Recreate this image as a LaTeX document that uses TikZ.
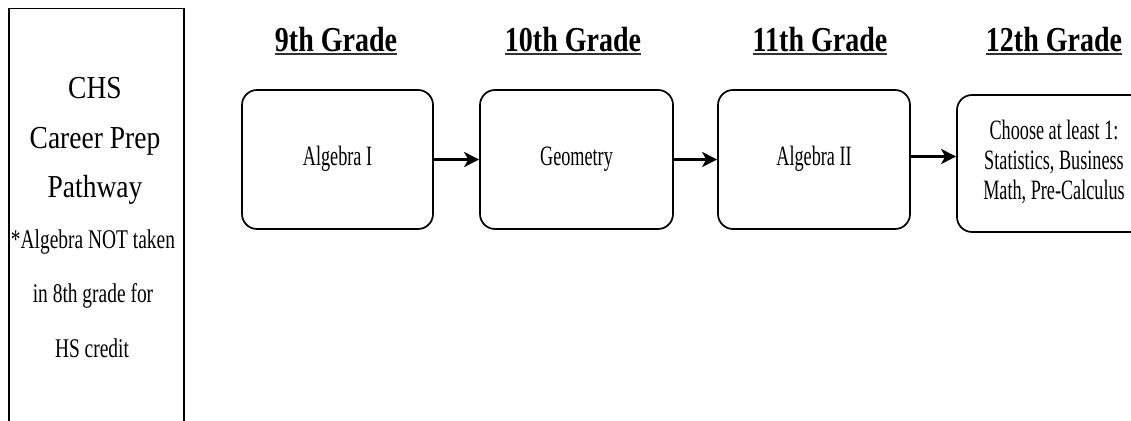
\documentclass[tikz,border=0pt]{standalone}
\usepackage{fontspec}
\setmainfont{Liberation Serif}
\usetikzlibrary{arrows.meta}
\newcommand\sqz[2]{\scalebox{#1}[1]{#2}}
\newcommand\coursetext[1]{\raisebox{-5.5pt}{\scalebox{0.65}[1]{\begin{tabular}{@{}c@{}}#1\end{tabular}}}}
\begin{document}
\begin{tikzpicture}[x=1pt,y=-1pt,
  course/.style={draw, line width=1.7pt, rounded corners=15pt, minimum height=139pt,
    inner sep=0pt, font={\fontsize{28}{30}\selectfont}},
  side/.style={draw, line width=1.5pt, minimum width=175pt, minimum height=440pt, inner sep=0pt},
  title/.style={anchor=base, inner sep=0pt, font={\fontsize{32}{36}\selectfont}},
  note/.style={anchor=base, inner sep=0pt, font={\fontsize{27}{30}\selectfont}},
  head/.style={anchor=base, inner sep=0pt, font={\bfseries\fontsize{35}{40}\selectfont}},
  uline/.style={line width=2pt, draw=black!80},
  flow/.style={line width=2.2pt, -{Stealth[length=15pt,width=15pt,inset=4pt]}}
]
\useasboundingbox (0,0) rectangle (1131,420);
\clip (0,0) rectangle (1131,420);
\fill[white] (0,0) rectangle (1131,420);

% side panel
\node[side, anchor=north west] (panel) at (8,8) {};
\node[title] (chs) at (95,98) {\sqz{0.86}{CHS}};
\node[title] (career) at (95,148) {\sqz{0.86}{Career Prep}};
\node[title] (pathway) at (95,197) {\sqz{0.86}{Pathway}};
\node[note] (n1) at (93,248) {\sqz{0.72}{*Algebra NOT taken}};
\node[note] (n2) at (93,302) {\sqz{0.72}{in 8th grade for}};
\node[note] (n3) at (92,357) {\sqz{0.72}{HS credit}};

% headings
\node[head] (h9) at (336,52) {\sqz{0.8}{9th Grade}};
\node[head] (h10) at (573,52) {\sqz{0.8}{10th Grade}};
\node[head] (h11) at (820,52) {\sqz{0.8}{11th Grade}};
\node[head] (h12) at (1054,52) {\sqz{0.8}{12th Grade}};
\foreach \h in {h9,h10,h11,h12}
  \draw[uline] ([yshift=-2.5pt]\h.base west) -- ([yshift=-2.5pt]\h.base east);

% course boxes
\node[course, minimum width=191pt] (b1) at (337.5,159.5) {\coursetext{Algebra I}};
\node[course, minimum width=193pt] (b2) at (576.5,159.5) {\coursetext{Geometry}};
\node[course, minimum width=192pt] (b3) at (814,159.5) {\coursetext{Algebra II}};
\node[course, minimum width=194pt, minimum height=137pt] (b4) at (1054,163.5)
  {\coursetext{Choose at least 1:\\Statistics, Business\\Math, Pre-Calculus}};

% connectors
\draw[flow] (b1.east) -- (b2.west);
\draw[flow] (b2.east) -- (b3.west);
\draw[flow] ([yshift=3pt]b3.east) -- ([yshift=3pt]b3.east -| b4.west);
\end{tikzpicture}
\end{document}
